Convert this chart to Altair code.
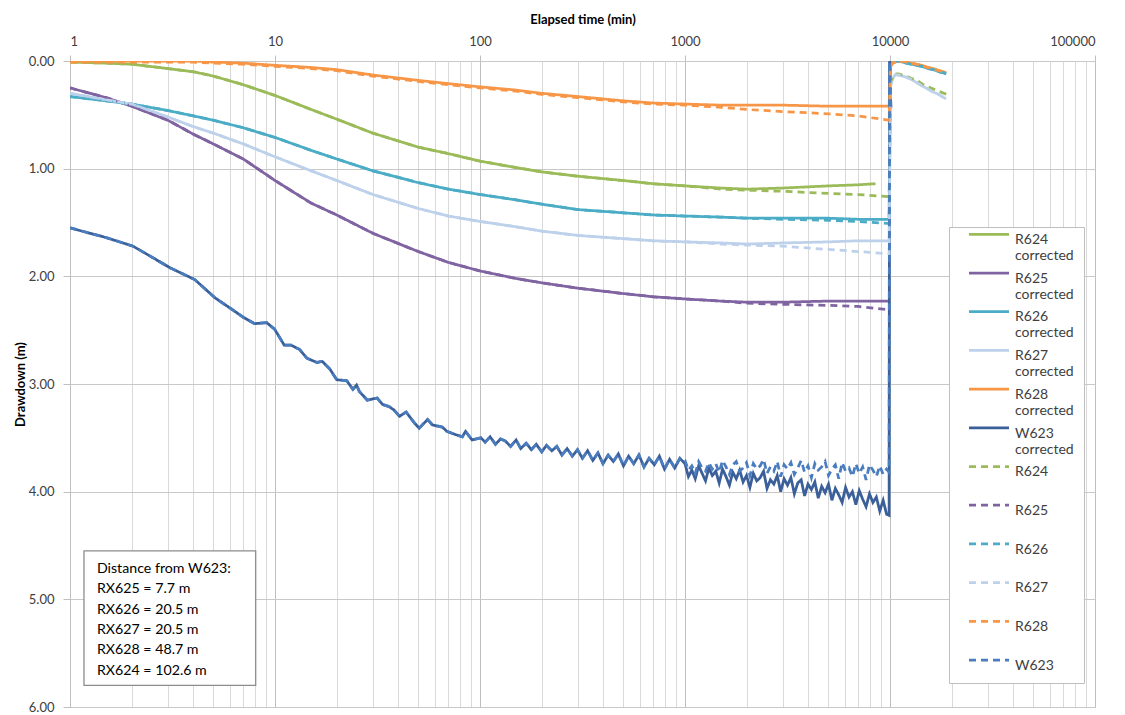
import altair as alt
import pandas as pd

# ---------------- data ----------------
SERIES = ["R624 corrected", "R625 corrected", "R626 corrected", "R627 corrected",
          "R628 corrected", "W623 corrected", "R624", "R625", "R626", "R627", "R628", "W623"]
COLORS = ["#9BBB59", "#8064A2", "#4BACC6", "#BDD1EB", "#F79646", "#3A5F99",
          "#9BBB59", "#8064A2", "#4BACC6", "#BDD1EB", "#F79646", "#4A7DBF"]
DASHES = [[1, 0]] * 6 + [[7, 5]] * 6

T_MAIN = [1, 1.5, 2, 3, 4, 5, 7, 10, 15, 20, 30, 50, 70, 100, 150, 200, 300, 500, 700,
          1000, 1500, 2000, 3000, 5000, 7000, 9900]
T_R624C = [1, 1.5, 2, 3, 4, 5, 7, 10, 15, 20, 30, 50, 70, 100, 150, 200, 300, 500, 700,
           1000, 1500, 2000, 3000, 5000, 7000, 8500]

R624C = [0.01, 0.02, 0.03, 0.07, 0.10, 0.14, 0.22, 0.32, 0.45, 0.54, 0.67, 0.80, 0.86, 0.93,
         0.99, 1.03, 1.07, 1.11, 1.14, 1.16, 1.18, 1.19, 1.18, 1.16, 1.15, 1.14]
R624 = [0.01, 0.02, 0.03, 0.07, 0.10, 0.14, 0.22, 0.32, 0.45, 0.54, 0.67, 0.80, 0.86, 0.93,
        0.99, 1.03, 1.07, 1.11, 1.14, 1.16, 1.19, 1.20, 1.21, 1.23, 1.24, 1.26]
R625C = [0.25, 0.34, 0.42, 0.55, 0.68, 0.77, 0.91, 1.11, 1.32, 1.43, 1.60, 1.77, 1.87, 1.95,
         2.02, 2.06, 2.11, 2.16, 2.19, 2.21, 2.23, 2.24, 2.24, 2.23, 2.23, 2.23]
R625 = [0.25, 0.34, 0.42, 0.55, 0.68, 0.77, 0.91, 1.11, 1.32, 1.43, 1.60, 1.77, 1.87, 1.95,
        2.02, 2.06, 2.11, 2.16, 2.19, 2.21, 2.23, 2.25, 2.26, 2.27, 2.28, 2.31]
R626C = [0.33, 0.37, 0.40, 0.46, 0.51, 0.55, 0.62, 0.71, 0.83, 0.91, 1.02, 1.13, 1.19, 1.24,
         1.29, 1.33, 1.38, 1.41, 1.43, 1.44, 1.45, 1.46, 1.46, 1.46, 1.47, 1.47]
R626 = [0.33, 0.37, 0.40, 0.46, 0.51, 0.55, 0.62, 0.71, 0.83, 0.91, 1.02, 1.13, 1.19, 1.24,
        1.29, 1.33, 1.38, 1.41, 1.43, 1.44, 1.45, 1.46, 1.47, 1.48, 1.49, 1.51]
R627C = [0.30, 0.36, 0.40, 0.52, 0.61, 0.67, 0.77, 0.89, 1.02, 1.11, 1.24, 1.37, 1.44, 1.49,
         1.54, 1.58, 1.62, 1.65, 1.67, 1.68, 1.69, 1.70, 1.69, 1.68, 1.67, 1.67]
R627 = [0.30, 0.36, 0.40, 0.52, 0.61, 0.67, 0.77, 0.89, 1.02, 1.11, 1.24, 1.37, 1.44, 1.49,
        1.54, 1.58, 1.62, 1.65, 1.67, 1.68, 1.70, 1.71, 1.72, 1.75, 1.77, 1.79]
R628C = [0.00, 0.00, 0.00, 0.00, 0.00, 0.01, 0.02, 0.04, 0.06, 0.08, 0.13, 0.18, 0.21, 0.24,
         0.27, 0.30, 0.33, 0.37, 0.39, 0.40, 0.41, 0.41, 0.41, 0.42, 0.42, 0.42]
R628 = [0.01, 0.01, 0.01, 0.01, 0.01, 0.02, 0.03, 0.05, 0.07, 0.09, 0.14, 0.19, 0.22, 0.25,
        0.28, 0.31, 0.34, 0.38, 0.40, 0.41, 0.43, 0.45, 0.47, 0.49, 0.51, 0.55]

# recovery after the pump stopped
T_REC = [10050, 10300, 10600, 11000, 11500, 12000, 12700, 13500, 14300, 15300, 16300,
         17300, 18300, 18800]
REC_R624 = [0.22, 0.15, 0.12, 0.12, 0.13, 0.14, 0.16, 0.18, 0.21, 0.24, 0.26, 0.28, 0.30, 0.31]
REC_R626 = [0.03, 0.01, 0.00, 0.00, 0.01, 0.02, 0.03, 0.04, 0.05, 0.07, 0.08, 0.10, 0.11, 0.12]
REC_R627 = [0.24, 0.16, 0.13, 0.13, 0.14, 0.15, 0.17, 0.20, 0.23, 0.26, 0.29, 0.31, 0.34, 0.35]
REC_R628 = [0.05, 0.02, 0.01, 0.00, 0.00, 0.01, 0.02, 0.03, 0.04, 0.06, 0.07, 0.09, 0.10, 0.11]

# pumping well W623 (noisy)
T_W_EARLY = [1, 1.5, 2.03, 2.5, 3.07, 4.06, 5.1, 6.2, 7.0, 7.95, 9.1, 9.95, 11.1, 12.0, 13.2,
             14.3, 16, 17, 18.5, 20, 22.4, 24, 25, 25.8, 28.2, 31.5, 33.5, 36, 38, 40.5, 43.6,
             47.8, 50.5, 55.5, 58.6, 65.5, 69, 76, 82, 85, 91.5, 101]
W_EARLY = [1.55, 1.64, 1.72, 1.82, 1.92, 2.03, 2.20, 2.31, 2.38, 2.44, 2.43, 2.49, 2.64, 2.64,
           2.68, 2.76, 2.80, 2.79, 2.86, 2.96, 2.97, 3.05, 3.01, 3.07, 3.15, 3.13, 3.19, 3.21,
           3.24, 3.30, 3.26, 3.36, 3.41, 3.33, 3.38, 3.40, 3.44, 3.47, 3.49, 3.44, 3.52, 3.50]
T_W_MID = [106, 112, 119, 126, 133, 141, 150, 158, 168, 178, 188, 200, 211, 224, 237, 251, 266,
           282, 299, 316, 335, 355, 376, 398, 422, 447, 473, 501, 531, 562, 596, 631, 668, 708,
           750, 794, 841, 891, 944]
W_MID = [3.54, 3.49, 3.56, 3.51, 3.53, 3.58, 3.52, 3.60, 3.55, 3.61, 3.56, 3.63, 3.57, 3.62,
         3.58, 3.66, 3.60, 3.67, 3.61, 3.69, 3.62, 3.71, 3.64, 3.74, 3.66, 3.72, 3.65, 3.76,
         3.67, 3.74, 3.66, 3.77, 3.69, 3.75, 3.67, 3.79, 3.70, 3.78, 3.69]
T_W_LATE = [1000, 1039, 1080, 1122, 1166, 1212, 1259, 1308, 1359, 1413,
            1468, 1525, 1585, 1647, 1711, 1778, 1848, 1920, 1995, 2073,
            2154, 2239, 2326, 2418, 2512, 2610, 2712, 2818, 2929, 3043,
            3162, 3286, 3415, 3548, 3687, 3831, 3981, 4137, 4299, 4467,
            4642, 4824, 5012, 5208, 5412, 5623, 5843, 6072, 6310, 6556,
            6813, 7079, 7356, 7644, 7943, 8254, 8577, 8913, 9261, 9623, 9900]
W_RAW_LATE = [3.71, 3.80, 3.76, 3.83, 3.72, 3.78, 3.81, 3.73, 3.79, 3.74,
              3.82, 3.71, 3.77, 3.84, 3.75, 3.72, 3.81, 3.78, 3.73, 3.85,
              3.74, 3.79, 3.76, 3.70, 3.83, 3.77, 3.81, 3.72, 3.86, 3.75,
              3.79, 3.73, 3.84, 3.78, 3.71, 3.82, 3.76, 3.87, 3.74, 3.80,
              3.77, 3.72, 3.85, 3.79, 3.75, 3.88, 3.73, 3.81, 3.78, 3.86,
              3.74, 3.83, 3.77, 3.89, 3.75, 3.80, 3.86, 3.76, 3.84, 3.79, 3.82]
W_COR_LATE = [3.74, 3.86, 3.80, 3.88, 3.76, 3.83, 3.90, 3.78, 3.85, 3.81,
              3.92, 3.79, 3.86, 3.94, 3.82, 3.88, 3.80, 3.91, 3.85, 3.96,
              3.83, 3.90, 3.87, 3.81, 3.97, 3.89, 3.93, 3.85, 4.00, 3.88,
              3.94, 3.87, 4.02, 3.92, 3.89, 4.04, 3.93, 3.98, 3.91, 4.06,
              3.95, 4.01, 3.93, 4.08, 3.97, 4.03, 4.10, 3.96, 4.05, 4.00,
              4.12, 3.99, 4.07, 4.14, 4.02, 4.10, 4.05, 4.18, 4.08, 4.21, 4.22]
T_W_STOP = [9950, 10100]
W_STOP = [0.00, 0.44]

NOTE = ["Distance from W623:", "RX625 = 7.7 m", "RX626 = 20.5 m", "RX627 = 20.5 m",
        "RX628 = 48.7 m", "RX624 = 102.6 m"]

X_MAJOR = [1, 10, 100, 1000, 10000, 100000]
Y_TICKS = [0, 1, 2, 3, 4, 5, 6]

# ---------------- table ----------------
rows = []


def add(name, ts, ds):
    assert len(ts) == len(ds), name
    for t, d in zip(ts, ds):
        rows.append({"series": name, "t": t, "d": d})


add("R624 corrected", T_R624C, R624C)
add("R625 corrected", T_MAIN, R625C)
add("R626 corrected", T_MAIN + T_REC, R626C + REC_R626)
add("R627 corrected", T_MAIN + T_REC, R627C + REC_R627)
add("R628 corrected", T_MAIN + T_REC, R628C + REC_R628)
add("W623 corrected", T_W_EARLY + T_W_MID + T_W_LATE + T_W_STOP, W_EARLY + W_MID + W_COR_LATE + W_STOP)
add("R624", T_MAIN + T_REC, R624 + REC_R624)
add("R625", T_MAIN, R625)
add("R626", T_MAIN + T_REC, R626 + REC_R626)
add("R627", T_MAIN + T_REC, R627 + REC_R627)
add("R628", T_MAIN + T_REC, R628 + REC_R628)
add("W623", T_W_EARLY + T_W_MID + T_W_LATE + T_W_STOP, W_EARLY + W_MID + W_RAW_LATE + W_STOP)
df = pd.DataFrame(rows)

FONT = "Lato"
x_vals = [m * 10 ** e for e in range(5) for m in range(1, 10)] + [100000]
major_test = "indexof([1,10,100,1000,10000,100000], datum.value) >= 0"

x_enc = alt.X(
    "t:Q",
    scale=alt.Scale(type="log", domain=[1, 100000], nice=False),
    axis=alt.Axis(
        orient="top", values=x_vals, title="Elapsed time (min)",
        labelExpr=f"{major_test} ? format(datum.value, 'd') : ''",
        grid=True,
        gridColor={"condition": {"test": major_test, "value": "#BFBFBF"}, "value": "#D9D9D9"},
        tickOpacity={"condition": {"test": major_test, "value": 1}, "value": 0},
        tickColor="#BFBFBF", tickSize=6, domain=False,
        labelFont=FONT, labelFontSize=13, labelColor="#404040", labelPadding=7,
        titleFont=FONT, titleFontSize=13, titleFontWeight="bold", titleColor="#000000",
        titlePadding=9,
    ),
)
y_enc = alt.Y(
    "d:Q",
    scale=alt.Scale(domain=[0, 6], reverse=True, nice=False),
    axis=alt.Axis(
        values=Y_TICKS, format=".2f", title="Drawdown (m)", grid=True, gridColor="#C8C8C8",
        domainColor="#BFBFBF", tickColor="#BFBFBF", tickSize=7,
        labelFont=FONT, labelFontSize=13, labelColor="#404040", labelPadding=9,
        titleFont=FONT, titleFontSize=13, titleFontWeight="bold", titleColor="#000000",
        titlePadding=1,
    ),
)

legend = alt.Legend(
    orient="none", legendX=879, legendY=166, title=None,
    symbolType="M-4,-1.94L4,-1.94", symbolSize=100, symbolStrokeWidth=2.75,
    labelFont=FONT, labelFontSize=14, labelColor="#404040",
    labelExpr="split(datum.label, ' ')", labelBaseline="alphabetic",
    symbolOffset=23, labelOffset=19, strokeColor="#BFBFBF", fillColor="white",
    padding=10, rowPadding=3.7, gridAlign="all", labelLimit=200,
)

lines = alt.Chart(df).mark_line(strokeWidth=2.75, clip=True).encode(
    x=x_enc,
    y=y_enc,
    color=alt.Color("series:N", scale=alt.Scale(domain=SERIES, range=COLORS), legend=legend),
    strokeDash=alt.StrokeDash("series:N", scale=alt.Scale(domain=SERIES, range=DASHES), legend=legend),
    order=alt.Order("t:Q"),
)

box_df = pd.DataFrame({"t1": [1.17], "t2": [8.05], "d1": [4.55], "d2": [5.80]})
box = alt.Chart(box_df).mark_rect(fill="white", stroke="#8C8C8C", strokeWidth=1.3).encode(
    x="t1:Q", x2="t2:Q", y="d1:Q", y2="d2:Q"
)
note_df = pd.DataFrame({"t": [1.353], "d": [4.652], "txt": ["\n".join(NOTE)]})
note = alt.Chart(note_df).mark_text(
    align="left", baseline="top", lineBreak="\n", lineHeight=20.4, font=FONT,
    fontSize=14.2, color="#000000"
).encode(x="t:Q", y="d:Q", text="txt:N")

chart = alt.layer(lines, box, note).properties(
    width=1025, height=646,
    autosize=alt.AutoSizeParams(type="none"),
    padding={"left": 62, "top": 53, "right": 22, "bottom": 8},
).configure_view(stroke=None).configure(background="white")

chart.save("out.html", embed_options={"renderer": "svg", "actions": False})
